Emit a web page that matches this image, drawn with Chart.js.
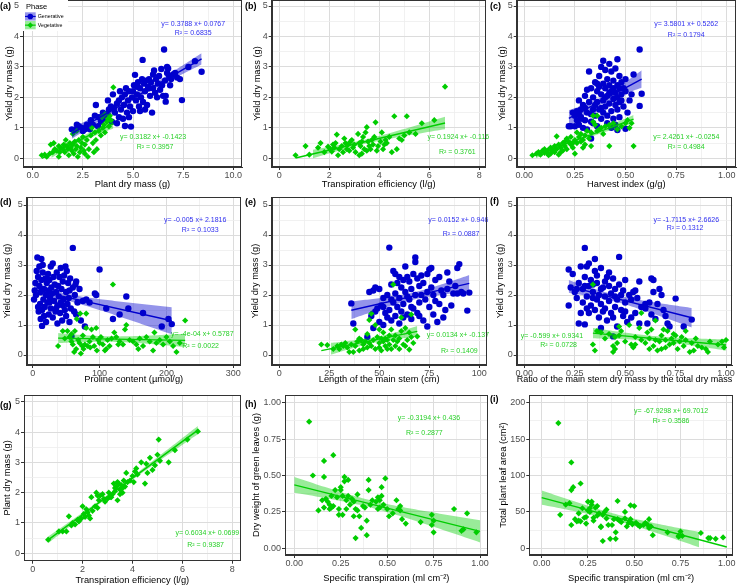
<!DOCTYPE html>
<html>
<head>
<meta charset="utf-8">
<title>Yield relationships by phase</title>
<script src="https://cdn.jsdelivr.net/npm/chart.js@4.4.1/dist/chart.umd.min.js"></script>
<style>
  html, body { margin: 0; padding: 0; background: #fff; }
  #fig { position: relative; width: 740px; height: 585px; overflow: hidden; }
  .panel { position: absolute; line-height: 0; }
  .panel canvas { display: block; }
</style>
</head>
<body>
<div id="fig"></div>
<script>
// ---- data ----
// pairs are flattened: x0, y0, x1, y1, ...

// (a) plant dry mass vs yield dry mass
const aGen = [1.95,0.95, 2.1,0.92, 2.2,1.1, 2.3,1.05, 2.45,1.0, 2.5,0.9, 2.6,0.95, 2.7,1.1, 2.85,0.95, 2.9,1.25, 3.0,1.1, 3.1,1.4, 3.15,1.75, 3.25,1.05, 3.3,1.35, 3.4,1.2, 3.5,1.5, 3.6,1.3, 3.7,1.45,
  3.75,1.9, 3.8,1.6, 3.9,1.7, 3.95,1.2, 4.0,2.1, 4.05,1.65, 4.1,1.5, 4.2,1.8, 4.2,1.15, 4.3,1.35, 4.3,1.9, 4.35,2.2, 4.4,1.6, 4.45,2.0, 4.5,1.3, 4.55,1.75, 4.6,1.06, 4.6,2.1, 4.65,2.3, 4.7,1.5, 4.75,1.9, 4.8,2.2, 4.8,1.35, 4.85,1.7, 4.9,1.04, 4.95,2.0, 5.0,1.55, 5.0,2.2, 5.05,2.4,
  5.1,2.74, 5.15,1.9, 5.2,2.1, 5.2,2.35, 5.25,2.5, 5.3,1.7, 5.35,2.3, 5.35,1.55, 5.4,2.0, 5.45,2.6, 5.48,3.23, 5.5,1.85, 5.55,2.45, 5.6,2.2, 5.6,1.6, 5.65,2.55, 5.7,1.75, 5.75,2.35, 5.8,2.6, 5.8,2.3, 5.85,2.05, 5.9,2.5, 5.95,1.5, 6.0,2.3, 6.0,2.75, 6.05,2.88, 6.1,2.15, 6.15,2.6, 6.2,2.0, 6.25,2.45, 6.3,2.7, 6.35,2.25, 6.41,2.93, 6.45,2.4, 6.5,2.05, 6.55,3.57, 6.6,2.55,
  6.63,2.05, 6.63,1.86, 6.7,2.8, 6.7,3.0, 6.75,2.95, 6.8,2.7, 6.85,2.4, 6.9,2.6, 7.0,2.75, 7.1,2.8, 7.2,2.65, 7.34,2.6, 7.44,1.91, 7.76,3.0, 8.09,3.19, 8.42,2.84];
const aVeg = [0.45,0.1, 0.6,0.12, 0.7,0.05, 0.85,0.15, 0.9,0.45, 1.0,0.2, 1.05,0.5, 1.1,0.3, 1.2,0.25, 1.3,0.4, 1.3,0.05, 1.35,0.2, 1.4,0.35, 1.5,0.3, 1.55,0.45, 1.6,0.2, 1.65,0.6, 1.7,0.4, 1.75,0.3, 1.8,0.1,
  1.85,0.5, 1.9,0.35, 1.95,0.25, 2.0,0.45, 2.0,0.8, 2.05,0.15, 2.1,0.55, 2.15,0.3, 2.2,0.4, 2.2,0.9, 2.25,0.05, 2.3,0.6, 2.35,0.2, 2.4,0.35, 2.45,0.5, 2.5,0.7, 2.55,0.25, 2.6,0.45, 2.6,0.15, 2.7,0.6,
  2.75,0.05, 2.8,0.3, 2.9,0.75, 2.95,1.0, 3.0,0.5, 3.05,0.2, 3.1,0.85, 3.15,0.6, 3.2,0.3, 3.3,0.9, 3.4,0.75, 3.45,1.35, 3.5,1.0, 3.55,1.1, 3.6,0.85, 3.6,1.45, 3.7,1.2, 3.75,1.3, 3.8,1.05, 3.85,1.4, 3.9,1.25, 4.02,2.33];

// (b) transpiration efficiency vs yield dry mass
const bVeg = [0.65,0.1, 1.05,0.4, 1.2,0.12, 1.55,0.35, 1.65,0.5, 1.8,0.2, 1.95,0.38, 2.05,0.3, 2.1,0.22, 2.15,0.45, 2.2,0.35, 2.25,0.5, 2.3,0.78, 2.35,0.1, 2.4,0.3, 2.5,0.4, 2.55,0.2, 2.6,0.65, 2.65,0.5, 2.7,0.3,
  2.75,0.45, 2.8,0.25, 2.85,0.55, 2.9,0.6, 2.95,0.35, 3.0,0.45, 3.05,0.2, 3.15,0.8, 3.2,0.1, 3.2,0.5, 3.25,0.4, 3.3,0.55, 3.3,0.15, 3.35,0.7, 3.4,0.3, 3.45,0.85, 3.5,1.02, 3.5,0.25, 3.55,0.55, 3.6,0.4,
  3.65,0.3, 3.7,0.6, 3.75,0.45, 3.8,0.7, 3.85,1.18, 3.9,0.25, 3.95,0.4, 4.05,0.55, 4.1,0.85, 4.15,0.3, 4.2,0.45, 4.25,0.6, 4.3,0.5, 4.4,0.7, 4.5,0.2, 4.6,1.38, 4.7,0.3, 4.8,0.65, 4.9,0.6, 5.0,0.75,
  5.1,1.38, 5.2,0.85, 5.45,0.8, 5.7,1.15, 6.2,1.25, 6.63,2.35];

// (c) harvest index vs yield dry mass
const cGen = [0.22,1.05, 0.23,1.05, 0.24,1.5, 0.25,1.05, 0.25,1.4, 0.26,1.25, 0.26,1.55, 0.27,1.9, 0.27,1.1, 0.27,1.45, 0.28,1.3, 0.28,1.6, 0.28,1.35, 0.29,1.0, 0.29,1.75, 0.3,1.25, 0.3,2.05, 0.3,1.65,
  0.31,1.5, 0.31,0.95, 0.31,2.25, 0.32,1.85, 0.32,2.85, 0.33,1.2, 0.33,0.65, 0.33,2.3, 0.33,1.45, 0.34,1.6, 0.34,2.0, 0.34,1.15, 0.35,1.4, 0.35,2.5, 0.35,1.75, 0.36,1.05, 0.36,1.85, 0.36,2.2, 0.36,2.45,
  0.37,1.6, 0.37,2.7, 0.37,2.35, 0.38,1.3, 0.38,2.1, 0.38,3.0, 0.38,1.65, 0.39,1.9, 0.39,2.45, 0.39,3.2, 0.39,1.5, 0.4,1.7, 0.4,2.3, 0.4,2.9, 0.4,2.0, 0.41,1.4, 0.41,2.05, 0.41,2.6, 0.41,1.15,
  0.42,1.8, 0.42,2.4, 0.42,3.1, 0.42,2.15, 0.43,1.55, 0.43,2.2, 0.43,2.85, 0.43,1.0, 0.44,1.3, 0.44,1.95, 0.44,2.55, 0.44,2.3, 0.45,1.1, 0.45,2.15, 0.45,2.95, 0.45,1.75, 0.46,1.6, 0.46,2.4, 0.46,3.25,
  0.46,2.0, 0.46,0.93, 0.47,1.85, 0.47,2.7, 0.47,1.35, 0.47,2.3, 0.48,2.1, 0.48,2.5, 0.48,1.9, 0.49,1.7, 0.49,2.3, 0.5,0.97, 0.5,2.2, 0.5,2.6, 0.51,1.5, 0.52,1.9, 0.53,2.1, 0.54,2.75, 0.57,3.57, 0.57,1.72, 0.58,2.12];
const cVeg = [0.04,0.1, 0.06,0.15, 0.07,0.2, 0.08,0.12, 0.09,0.25, 0.1,0.18, 0.1,0.3, 0.11,0.2, 0.12,0.28, 0.12,0.1, 0.13,0.15, 0.13,0.35, 0.14,0.25, 0.15,0.4, 0.15,0.2, 0.16,0.72, 0.16,0.3, 0.17,0.45,
  0.17,0.12, 0.18,0.35, 0.18,0.2, 0.19,0.5, 0.19,0.25, 0.2,0.4, 0.2,0.55, 0.21,0.65, 0.21,0.3, 0.22,0.55, 0.23,0.45, 0.23,0.7, 0.24,0.35, 0.24,0.5, 0.25,0.6, 0.25,0.15, 0.26,0.85, 0.26,0.5, 0.27,0.7,
  0.28,0.55, 0.28,0.8, 0.29,0.6, 0.29,0.35, 0.3,0.75, 0.3,0.45, 0.31,0.9, 0.32,0.65, 0.33,0.85, 0.33,0.4, 0.34,1.2, 0.34,1.4, 0.35,1.1, 0.36,0.9, 0.36,1.4, 0.37,0.95, 0.38,1.0, 0.39,0.8, 0.4,1.05,
  0.42,0.4, 0.42,1.1, 0.44,1.15, 0.46,0.95, 0.48,1.05, 0.5,1.15, 0.51,1.25, 0.52,1.0, 0.53,1.15, 0.54,0.4];

// (d) proline content vs yield dry mass
const dGen = [2,1.85, 3,2.15, 4,2.4, 5,2.0, 6,2.8, 7,3.25, 8,1.6, 8,2.6, 9,1.45, 10,2.3, 10,2.95, 11,1.7, 12,1.2, 12,2.1, 13,3.2, 13,2.5, 14,0.97, 14,1.5, 15,3.0, 15,2.75, 15,2.2, 16,1.85, 17,1.3, 17,2.2,
  18,1.6, 19,2.55, 20,1.1, 20,2.0, 21,2.4, 22,1.75, 23,2.7, 24,1.35, 24,2.15, 25,2.5, 25,1.75, 26,1.9, 27,2.95, 27,1.55, 28,2.25, 29,2.05, 30,1.25, 30,3.05, 31,2.6, 32,1.8, 33,2.35, 34,1.45, 35,2.1,
  35,1.55, 36,2.75, 37,1.05, 37,1.65, 38,2.3, 39,1.95, 40,2.6, 41,1.4, 42,2.9, 42,1.75, 43,2.2, 44,1.15, 45,2.45, 45,1.65, 46,1.85, 47,2.65, 48,1.5, 49,2.95, 50,2.1, 50,1.3, 51,2.8, 52,1.7, 53,2.4,
  54,1.9, 55,1.1, 55,2.15, 56,2.55, 57,1.55, 58,0.62, 60,3.57, 60,2.25, 62,1.45, 63,2.0, 64,2.35, 65,1.35, 65,2.45, 67,1.75, 70,2.2, 72,1.15, 75,1.8, 78,0.95, 80,1.85, 85,1.75, 93,2.05, 95,2.0,
  100,2.85, 110,1.55, 120,1.2, 130,1.35, 140,1.95, 143,1.55, 165,1.4, 193,0.95, 203,1.2, 208,1.03];
const dVeg = [38,0.3, 45,0.8, 48,0.55, 52,0.8, 55,0.6, 58,0.45, 58,0.7, 60,0.35, 62,0.1, 63,0.8, 65,0.2, 66,1.2, 68,0.5, 70,0.4, 71,1.38, 72,0.05, 74,0.3, 75,0.65, 76,0.2, 78,0.35, 80,1.38, 80,0.9,
  82,0.3, 85,0.45, 86,0.25, 88,0.85, 90,0.6, 92,0.3, 95,0.9, 96,0.15, 98,0.5, 100,0.4, 102,0.6, 105,0.35, 108,0.15, 110,0.2, 112,0.5, 115,0.3, 118,0.55, 120,2.35, 122,0.75, 125,0.6, 128,0.35,
  130,0.45, 135,0.35, 138,0.85, 140,1.0, 145,0.5, 150,0.45, 155,0.35, 158,0.2, 160,0.55, 165,0.3, 170,0.6, 175,0.45, 180,0.15, 182,0.75, 185,0.4, 190,0.5, 195,0.35, 200,0.6, 205,0.45, 210,0.3,
  215,0.1, 220,0.4, 228,1.15];

// (e) length of the main stem vs yield dry mass
const eGen = [36,1.72, 37,1.05, 44,0.6, 45,2.1, 46,1.3, 47,2.15, 47,0.9, 48,1.45, 48,2.25, 49,1.55, 50,2.2, 50,1.1, 51,1.65, 52,1.0, 52,1.9, 52,1.6, 53,1.4, 54,2.0, 54,1.25, 55,1.5, 55,3.58,
  56,2.35, 56,1.15, 56,1.85, 57,2.8, 57,1.75, 58,2.05, 58,1.3, 58,2.7, 59,1.6, 59,2.4, 60,1.9, 60,1.05, 60,2.6, 61,2.25, 61,1.45, 62,2.5, 62,1.7, 62,1.25, 63,2.95, 63,2.1, 64,1.35, 64,2.6, 64,1.95,
  65,1.85, 65,2.45, 66,1.2, 66,2.2, 66,1.6, 67,2.7, 67,1.55, 68,3.25, 68,3.1, 68,2.0, 69,2.55, 69,1.4, 70,2.3, 70,1.75, 70,1.3, 71,2.65, 71,2.0, 72,1.15, 72,2.4, 73,1.85, 74,2.7, 74,0.95, 74,2.1,
  75,2.85, 75,1.6, 76,2.9, 76,2.25, 77,2.0, 77,1.35, 78,1.8, 78,2.5, 79,1.1, 80,2.6, 80,1.7, 81,2.15, 82,2.0, 82,1.25, 83,1.5, 84,2.75, 84,2.2, 85,2.45, 86,1.65, 87,2.05, 88,2.3, 89,2.9, 89,2.05,
  90,3.03, 91,2.1, 92,2.05, 94,1.48, 95,2.08];
const eVeg = [21,0.35, 24,0.33, 27,0.2, 29,0.3, 30,0.2, 31,0.35, 32,0.3, 33,0.4, 34,0.25, 35,0.1, 36,0.35, 37,0.1, 38,0.85, 38,0.3, 39,0.45, 40,0.55, 40,0.15, 41,0.5, 42,0.2, 42,0.35, 43,0.45,
  44,0.25, 44,0.7, 45,1.17, 45,0.4, 46,1.38, 46,0.3, 47,0.5, 48,0.2, 48,1.0, 49,0.6, 50,0.4, 50,0.25, 50,0.85, 51,0.55, 51,0.15, 52,0.45, 52,0.75, 53,0.3, 53,0.55, 54,0.5, 54,0.2, 55,0.65, 55,0.35,
  56,0.85, 56,0.2, 57,2.35, 57,0.5, 58,0.3, 58,0.65, 59,0.45, 60,0.55, 60,0.2, 61,0.8, 61,1.25, 62,0.35, 63,0.9, 63,0.3, 64,0.5, 65,0.75, 65,0.18, 66,0.6, 66,1.35, 67,0.4, 69,0.62];

// (f) ratio of main stem dry mass to total dry mass vs yield dry mass
const fGen = [0.22,2.85, 0.22,1.65, 0.23,2.25, 0.24,2.7, 0.25,2.1, 0.26,1.9, 0.26,2.2, 0.27,1.05, 0.27,2.4, 0.28,2.95, 0.28,1.4, 0.29,2.2, 0.29,1.75, 0.3,3.57, 0.3,1.02, 0.3,2.6, 0.3,2.3,
  0.31,1.95, 0.31,2.95, 0.31,1.55, 0.32,1.4, 0.32,2.3, 0.32,3.05, 0.33,1.65, 0.33,2.5, 0.34,1.9, 0.34,2.1, 0.34,2.35, 0.35,3.2, 0.35,2.8, 0.35,1.5, 0.36,2.4, 0.36,2.65, 0.36,1.85, 0.37,1.25, 0.37,2.0,
  0.38,0.9, 0.38,2.9, 0.38,1.7, 0.38,2.2, 0.39,2.25, 0.39,1.45, 0.4,2.45, 0.4,1.95, 0.4,1.55, 0.41,1.15, 0.41,2.6, 0.42,1.8, 0.42,2.3, 0.42,2.75, 0.43,1.4, 0.43,2.05, 0.44,2.55, 0.44,1.25, 0.44,0.62,
  0.45,1.6, 0.45,2.2, 0.45,1.95, 0.46,1.85, 0.46,0.95, 0.47,2.35, 0.47,3.27, 0.48,1.5, 0.48,2.0, 0.49,2.15, 0.49,1.3, 0.5,1.75, 0.5,2.5, 0.5,1.45, 0.51,1.1, 0.52,2.0, 0.53,1.85, 0.53,1.25, 0.54,2.1,
  0.55,2.15, 0.55,1.4, 0.56,1.9, 0.57,2.45, 0.57,1.05, 0.58,1.6, 0.6,1.55, 0.6,1.7, 0.61,1.05, 0.62,1.75, 0.63,2.55, 0.63,1.35, 0.64,2.5, 0.64,2.1, 0.65,1.2, 0.66,1.7, 0.67,2.2, 0.68,2.0, 0.69,1.5,
  0.7,1.3, 0.71,1.05, 0.72,0.95, 0.75,1.88, 0.79,0.95, 0.83,1.18];
const fVeg = [0.34,2.35, 0.34,0.35, 0.35,0.15, 0.36,0.8, 0.38,0.75, 0.4,0.55, 0.42,0.7, 0.44,0.1, 0.44,0.3, 0.45,0.6, 0.45,0.2, 0.46,0.4, 0.47,0.65, 0.47,0.95, 0.48,0.8, 0.5,0.45, 0.52,1.0, 0.53,0.35,
  0.54,0.25, 0.55,0.6, 0.55,0.35, 0.57,0.9, 0.58,1.4, 0.58,0.5, 0.6,0.4, 0.61,0.75, 0.62,0.2, 0.62,0.55, 0.63,0.85, 0.64,0.3, 0.65,1.15, 0.65,0.5, 0.66,0.15, 0.67,0.45, 0.68,0.65, 0.68,0.2, 0.69,0.85,
  0.7,0.25, 0.7,0.5, 0.71,0.8, 0.72,0.35, 0.73,0.55, 0.74,0.4, 0.74,0.7, 0.75,0.65, 0.76,0.2, 0.77,0.45, 0.78,0.6, 0.79,0.3, 0.8,0.8, 0.8,0.5, 0.82,0.1, 0.83,0.4, 0.84,0.15, 0.85,0.55, 0.86,0.3,
  0.88,0.25, 0.9,0.2, 0.91,0.1, 0.92,0.45, 0.96,0.35, 0.98,0.45, 0.99,0.25, 1.0,0.5];

// (g) transpiration efficiency vs plant dry mass
const gVeg = [0.62,0.45, 1.05,0.72, 1.2,0.72, 1.35,0.72, 1.45,1.22, 1.55,0.92, 1.6,1.0, 1.7,0.95, 1.8,1.1, 1.85,1.05, 1.95,1.15, 2.0,1.55, 2.05,1.3, 2.1,1.2, 2.15,1.45, 2.2,1.35, 2.25,1.25, 2.3,1.15,
  2.35,1.85, 2.4,1.4, 2.5,1.55, 2.55,2.0, 2.6,1.5, 2.6,1.9, 2.65,1.75, 2.7,1.9, 2.8,1.95, 2.85,1.8, 2.9,1.7, 3.0,1.8, 3.05,2.0, 3.1,1.85, 3.15,1.85, 3.2,1.95, 3.25,2.3, 3.3,2.05, 3.3,2.15, 3.35,2.2,
  3.4,1.75, 3.4,2.35, 3.45,2.3, 3.5,2.1, 3.5,1.95, 3.55,2.25, 3.6,2.0, 3.6,2.15, 3.65,2.4, 3.7,2.2, 3.75,2.65, 3.8,2.35, 3.9,2.4, 4.0,2.55, 4.05,2.35, 4.1,2.7, 4.15,2.8, 4.2,2.6, 4.35,3.0, 4.5,2.3,
  4.55,2.95, 4.6,2.65, 4.7,3.15, 4.8,2.75, 4.9,2.9, 5.0,3.25, 5.05,3.75, 5.1,3.05, 5.45,3.0, 5.7,3.4, 6.2,3.75, 6.62,4.02];

// (h) specific transpiration vs dry weight of green leaves
const hVeg = [0.08,0.87, 0.1,0.5, 0.13,0.26, 0.15,0.33, 0.16,0.6, 0.16,0.49, 0.16,0.28, 0.17,0.34, 0.18,0.32, 0.19,0.3, 0.19,0.27, 0.2,0.36, 0.2,0.28, 0.21,0.64, 0.21,0.29, 0.22,0.4, 0.23,0.35,
  0.24,0.23, 0.24,0.27, 0.25,0.42, 0.25,0.4, 0.26,0.23, 0.26,0.36, 0.27,0.49, 0.27,0.46, 0.28,0.27, 0.28,0.33, 0.29,0.36, 0.29,0.47, 0.3,0.3, 0.31,0.34, 0.32,0.32, 0.32,0.22, 0.33,0.27, 0.33,0.07,
  0.34,0.26, 0.34,0.37, 0.35,0.22, 0.36,0.14, 0.37,0.29, 0.38,0.28, 0.39,0.19, 0.39,0.09, 0.4,0.47, 0.4,0.4, 0.41,0.3, 0.42,0.33, 0.44,0.32, 0.45,0.35, 0.45,0.27, 0.46,0.28, 0.46,0.33, 0.47,0.42,
  0.47,0.36, 0.48,0.3, 0.49,0.48, 0.5,0.27, 0.51,0.22, 0.53,0.24, 0.55,0.33, 0.56,0.27, 0.57,0.29, 0.57,0.26, 0.58,0.2, 0.6,0.17, 0.68,0.18, 0.74,0.23, 0.74,0.16, 0.75,0.19, 0.75,0.11, 0.86,0.27,
  0.9,0.12, 0.91,0.13, 0.93,0.24, 0.98,0.11];

// (i) specific transpiration vs total plant leaf area
const iVeg = [0.09,172, 0.1,46, 0.13,60, 0.15,62, 0.16,118, 0.16,32, 0.16,80, 0.17,84, 0.18,40, 0.19,37, 0.2,48, 0.2,38, 0.21,89, 0.21,37, 0.22,55, 0.23,42, 0.24,34, 0.24,43, 0.25,64, 0.25,52,
  0.26,50, 0.26,55, 0.27,64, 0.27,60, 0.28,38, 0.28,42, 0.29,56, 0.3,58, 0.3,45, 0.31,48, 0.32,30, 0.32,29, 0.33,10, 0.33,46, 0.34,50, 0.35,53, 0.35,41, 0.36,32, 0.37,13, 0.38,32, 0.39,40, 0.4,13,
  0.4,22, 0.41,65, 0.41,40, 0.42,38, 0.43,36, 0.45,41, 0.45,50, 0.46,30, 0.47,35, 0.48,59, 0.48,40, 0.49,33, 0.5,58, 0.51,35, 0.52,32, 0.53,30, 0.55,32, 0.56,35, 0.57,33, 0.58,40, 0.58,28, 0.59,30,
  0.6,18, 0.68,22, 0.74,17, 0.74,16, 0.75,23, 0.76,17, 0.86,21, 0.9,14, 0.91,14, 0.94,13, 0.98,15];

// fitted equations [slope, intercept], as printed on the figure
const coefA = [[0.3788, 0.0767], [0.3182, -0.1423]];
const coefB = [[0.1924, -0.116]];
const coefC = [[3.5801, 0.5262], [2.4261, -0.0254]];
const coefD = [[-0.005, 2.1816], [-0.0004, 0.5787]];
const coefE = [[0.0152, 0.946], [0.0134, -0.137]];
const coefF = [[-1.7115, 2.6626], [-0.599, 0.9341]];
const coefG = [[0.6034, 0.0699]];
const coefH = [[-0.3194, 0.436]];
const coefI = [[-67.9298, 69.7012]];

const eqA = ['y= 0.3788 x+ 0.0767', 'R\u00b2 = 0.6835', 'y= 0.3182 x+ -0.1423', 'R\u00b2 = 0.3957'];
const eqB = ['y= 0.1924 x+ -0.116', 'R\u00b2 = 0.3761'];
const eqC = ['y= 3.5801 x+ 0.5262', 'R\u00b2 = 0.1794', 'y= 2.4261 x+ -0.0254', 'R\u00b2 = 0.4984'];
const eqD = ['y= -0.005 x+ 2.1816', 'R\u00b2 = 0.1033', 'y= -4e-04 x+ 0.5787', 'R\u00b2 = 0.0022'];
const eqE = ['y= 0.0152 x+ 0.946', 'R\u00b2 = 0.0887', 'y= 0.0134 x+ -0.137', 'R\u00b2 = 0.1409'];
const eqF = ['y= -1.7115 x+ 2.6626', 'R\u00b2 = 0.1312', 'y= -0.599 x+ 0.9341', 'R\u00b2 = 0.0728'];
const eqG = ['y= 0.6034 x+ 0.0699', 'R\u00b2 = 0.9387'];
const eqH = ['y= -0.3194 x+ 0.436', 'R\u00b2 = 0.2877'];
const eqI = ['y= -67.9298 x+ 69.7012', 'R\u00b2 = 0.3586'];

// tick labels
const ticksYield = ['0', '1', '2', '3', '4', '5'];
const ticksMass = ['0.0', '2.5', '5.0', '7.5', '10.0'];
const ticksTE = ['0', '2', '4', '6', '8'];
const ticksFrac = ['0.00', '0.25', '0.50', '0.75', '1.00'];
const ticksProline = ['0', '100', '200', '300'];
const ticksStem = ['0', '25', '50', '75', '100'];
const ticksArea = ['0', '50', '100', '150', '200'];

const phaseNames = ['Generative', 'Vegetative'];
const legendTitle = 'Phase';

// ---- styling / layout ----
const FONT = 'Arial, "Liberation Sans", Helvetica, sans-serif';
const GEN = '#0000CD', VEG = '#00CD00';
const GEN_BAND = 'rgba(0,0,205,0.42)', VEG_BAND = 'rgba(0,205,0,0.40)';
const GEN_TEXT = '#3030F0', VEG_TEXT = '#28D028';
const M = 10;           // spare margin around every canvas
const PANEL_H = 195;
const colX = [0, 245, 490], colW = [245, 245, 250], rowY = [0, 195, 390];

Chart.defaults.font.family = FONT;

function pairs(arr) {
  const out = [];
  for (let i = 0; i < arr.length; i += 2) out.push({x: arr[i], y: arr[i + 1]});
  return out;
}

// fitted line plus 95% confidence band around it, band dropped where it falls below 0
function regression(pts, coef, range) {
  const n = pts.length;
  const xbar = pts.reduce((s, p) => s + p.x, 0) / n;
  let sxx = 0, rss = 0;
  pts.forEach(p => {
    sxx += (p.x - xbar) ** 2;
    const r = p.y - (coef[0] * p.x + coef[1]);
    rss += r * r;
  });
  const s = Math.sqrt(rss / (n - 2));
  const t = 1.98;
  const [x0, x1] = range;
  const mid = [{x: x0, y: coef[0] * x0 + coef[1]}, {x: x1, y: coef[0] * x1 + coef[1]}];
  const upper = [], lower = [];
  for (let i = 0; i <= 60; i++) {
    const xv = x0 + (x1 - x0) * i / 60;
    const fit = coef[0] * xv + coef[1];
    const half = t * s * Math.sqrt(1 / n + (xv - xbar) ** 2 / sxx);
    if (fit - half < 0) continue;
    upper.push({x: xv, y: fit + half});
    lower.push({x: xv, y: fit - half});
  }
  return {mid, upper, lower};
}

function tickObjects(labels, range) {
  const vals = labels.map(Number);
  const step = vals[1] - vals[0];
  const ticks = [];
  if (vals[0] - step / 2 >= range[0]) ticks.push({value: vals[0] - step / 2, minor: true});
  vals.forEach((v, i) => {
    ticks.push({value: v, text: labels[i]});
    if (i < vals.length - 1) ticks.push({value: (v + vals[i + 1]) / 2, minor: true});
  });
  const last = vals[vals.length - 1];
  if (last + step / 2 <= range[1]) ticks.push({value: last + step / 2, minor: true});
  return ticks;
}

const isMinor = c => !!(c.tick && c.tick.minor);

function makeAxis(p, isX) {
  const labels = isX ? p.xTicks : p.yTicks;
  const range = isX ? p.xRange : p.yRange;
  return {
    type: 'linear',
    min: range[0],
    max: range[1],
    afterBuildTicks: s => { s.ticks = tickObjects(labels, range); },
    afterFit: s => {
      if (isX) s.height = PANEL_H - p.area[3];
      else s.width = p.area[0];
    },
    grid: {
      color: c => isMinor(c) ? '#EDEDED' : '#DCDCDC',
      lineWidth: c => isMinor(c) ? 0.8 : 1,
      tickColor: c => isMinor(c) ? 'rgba(0,0,0,0)' : '#333333',
      tickWidth: 1,
      tickLength: 3,
      drawTicks: true
    },
    border: {display: true, color: '#333333', width: 1},
    ticks: {
      autoSkip: false, maxRotation: 0, includeBounds: false,
      padding: isX ? 0 : 1,
      color: '#4D4D4D',
      font: {size: 9, family: FONT},
      callback: (v, i, t) => t[i].text || ''
    },
    title: {
      display: true,
      text: isX ? p.xTitle : p.yTitle,
      color: '#000',
      font: {size: 9.3, family: FONT, lineHeight: 1},
      padding: isX ? {top: 0, bottom: Math.max(0, PANEL_H - p.xTitleY - 4.65)}
                   : {top: p.yTitleX - 4.65, bottom: 0}
    }
  };
}

function drawPhaseLegend(ctx) {
  const ox = M, oy = M;
  ctx.fillStyle = '#FFFFFF';
  ctx.fillRect(ox + 20, oy - 2, 48, 33);
  ctx.fillStyle = '#000';
  ctx.font = '7.5px ' + FONT;
  ctx.textAlign = 'left';
  ctx.textBaseline = 'middle';
  ctx.fillText(legendTitle, ox + 26, oy + 6.5);
  const cols = [GEN, VEG], bands = [GEN_BAND, VEG_BAND];
  phaseNames.forEach((name, k) => {
    const ky = oy + 12.3 + k * 8.7;
    const cy = ky + 4.15, cx = ox + 30.3;
    ctx.fillStyle = bands[k];
    ctx.fillRect(ox + 25, ky, 10.7, 8.3);
    ctx.fillStyle = cols[k];
    ctx.fillRect(ox + 25, cy - 0.6, 10.7, 1.2);
    ctx.beginPath();
    if (k === 0) {
      ctx.arc(cx, cy, 2.8, 0, Math.PI * 2);
    } else {
      ctx.moveTo(cx - 2.9, cy); ctx.lineTo(cx, cy - 2.9);
      ctx.lineTo(cx + 2.9, cy); ctx.lineTo(cx, cy + 2.9);
      ctx.closePath();
    }
    ctx.fill();
    ctx.fillStyle = '#000';
    ctx.font = '5.3px ' + FONT;
    ctx.fillText(name, ox + 37.7, cy);
  });
}

const decoPlugin = {
  id: 'deco',
  beforeDatasetsDraw(chart, args, opts) {
    const {ctx, scales: {x, y}} = chart;
    ctx.save();
    ctx.font = '7px ' + FONT;
    ctx.textAlign = 'center';
    ctx.textBaseline = 'middle';
    opts.notes.forEach(n => {
      ctx.fillStyle = n.color;
      ctx.fillText(n.text, x.getPixelForValue(n.x), y.getPixelForValue(n.y));
    });
    ctx.restore();
  },
  afterDraw(chart, args, opts) {
    const {ctx, chartArea: a} = chart;
    ctx.save();
    // panel frame, drawn as thin filled strips
    const l = Math.round(a.left), t = Math.round(a.top), r = Math.round(a.right), b = Math.round(a.bottom);
    ctx.fillStyle = '#333333';
    ctx.fillRect(l, t, r - l, 1);
    ctx.fillRect(l, b - 1, r - l, 1);
    ctx.fillRect(l, t, 1, b - t);
    ctx.fillRect(r - 1, t, 1, b - t);
    if (opts.legend) drawPhaseLegend(ctx);
    ctx.fillStyle = '#000';
    ctx.font = 'bold 9px ' + FONT;
    ctx.textAlign = 'left';
    ctx.textBaseline = 'middle';
    ctx.fillText(opts.tag, M, M + opts.tagY);
    ctx.restore();
  }
};

function buildDatasets(p) {
  const datasets = [];
  p.series.forEach(s => {
    const gen = s.phase === 'gen';
    const pts = pairs(s.data);
    const xs = pts.map(q => q.x);
    const range = p.lineRange || [Math.min(...xs), Math.max(...xs)];
    const fit = regression(pts, s.coef, range);
    datasets.push({
      type: 'scatter', data: pts,
      pointStyle: gen ? 'circle' : 'rectRot',
      pointRadius: gen ? 3.2 : 3.1,
      backgroundColor: gen ? GEN : VEG,
      borderWidth: 0,
      order: gen ? 20 : 19
    });
    datasets.push({
      type: 'line', data: fit.upper, fill: '+1',
      backgroundColor: gen ? GEN_BAND : VEG_BAND,
      borderColor: 'rgba(0,0,0,0)', borderWidth: 0, pointRadius: 0, tension: 0,
      order: gen ? 11 : 10
    });
    datasets.push({
      type: 'line', data: fit.lower, fill: false,
      borderColor: 'rgba(0,0,0,0)', borderWidth: 0, pointRadius: 0, tension: 0,
      order: gen ? 11 : 10
    });
    datasets.push({
      type: 'line', data: fit.mid, fill: false,
      borderColor: gen ? GEN : VEG, borderWidth: 1.4, pointRadius: 0, tension: 0,
      order: gen ? 5 : 4
    });
  });
  return datasets;
}

function notesFor(eq, spots, colours) {
  return eq.map((text, i) => ({text, x: spots[i][0], y: spots[i][1], color: colours[i]}));
}
const twoPhase = [GEN_TEXT, GEN_TEXT, VEG_TEXT, VEG_TEXT];
const vegOnly = [VEG_TEXT, VEG_TEXT];

const panels = [
  {tag: '(a)', col: 0, row: 0, area: [23, 0, 242, 167], xRange: [-0.484, 10.434], yRange: [-0.286, 5.197],
   xTicks: ticksMass, yTicks: ticksYield, xTitle: 'Plant dry mass (g)', yTitle: 'Yield dry mass (g)',
   yTitleX: 9.3, xTitleY: 184.5, tagY: 6.5, legend: true,
   series: [{phase: 'gen', data: aGen, coef: coefA[0]}, {phase: 'veg', data: aVeg, coef: coefA[1]}],
   notes: notesFor(eqA, [[8.0, 4.41], [8.0, 4.10], [6.0, 0.69], [6.1, 0.36]], twoPhase)},
  {tag: '(b)', col: 1, row: 0, area: [26.7, 0, 240.7, 167], xRange: [-0.304, 8.256], yRange: [-0.286, 5.197],
   xTicks: ticksTE, yTicks: ticksYield, xTitle: 'Transpiration efficiency (l/g)', yTitle: 'Yield dry mass (g)',
   yTitleX: 12.7, xTitleY: 184.5, tagY: 6.5,
   series: [{phase: 'veg', data: bVeg, coef: coefB[0]}],
   notes: notesFor(eqB, [[7.16, 0.69], [7.12, 0.22]], vegOnly)},
  {tag: '(c)', col: 2, row: 0, area: [26.7, 0, 246, 167], xRange: [-0.0375, 1.046], yRange: [-0.286, 5.197],
   xTicks: ticksFrac, yTicks: ticksYield, xTitle: 'Harvest index (g/g)', yTitle: 'Yield dry mass (g)',
   yTitleX: 12.7, xTitleY: 184.5, tagY: 6.5,
   series: [{phase: 'gen', data: cGen, coef: coefC[0]}, {phase: 'veg', data: cVeg, coef: coefC[1]}],
   notes: notesFor(eqC, [[0.80, 4.41], [0.80, 4.05], [0.80, 0.69], [0.80, 0.36]], twoPhase)},
  {tag: '(d)', col: 0, row: 1, area: [26.7, 2, 240.7, 170], xRange: [-8.97, 311.05], yRange: [-0.333, 5.267],
   xTicks: ticksProline, yTicks: ticksYield, xTitle: 'Proline content (\u00b5mol/g)', yTitle: 'Yield dry mass (g)',
   yTitleX: 7.3, xTitleY: 184.5, tagY: 7.7,
   series: [{phase: 'gen', data: dGen, coef: coefD[0]}, {phase: 'veg', data: dVeg, coef: coefD[1]}],
   notes: notesFor(eqD, [[243, 4.5], [250.5, 4.17], [253.6, 0.69], [251, 0.31]], twoPhase)},
  {tag: '(e)', col: 1, row: 1, area: [26.7, 2, 241.7, 170], xRange: [-3.8, 103.7], yRange: [-0.333, 5.267],
   xTicks: ticksStem, yTicks: ticksYield, xTitle: 'Length of the main stem (cm)', yTitle: 'Yield dry mass (g)',
   yTitleX: 10, xTitleY: 184.5, tagY: 7.7,
   series: [{phase: 'gen', data: eGen, coef: coefE[0]}, {phase: 'veg', data: eVeg, coef: coefE[1]}],
   notes: notesFor(eqE, [[89.5, 4.5], [90.9, 4.03], [89.3, 0.67], [90, 0.13]], twoPhase)},
  {tag: '(f)', col: 2, row: 1, area: [26.7, 2, 242.3, 170], xRange: [-0.0377, 1.031], yRange: [-0.333, 5.267],
   xTicks: ticksFrac, yTicks: ticksYield, xTitle: 'Ratio of the main stem dry mass by the total dry mass', yTitle: 'Yield dry mass (g)',
   yTitleX: 10, xTitleY: 184.5, tagY: 7,
   series: [{phase: 'gen', data: fGen, coef: coefF[0]}, {phase: 'veg', data: fVeg, coef: coefF[1]}],
   notes: notesFor(eqF, [[0.803, 4.5], [0.797, 4.22], [0.137, 0.64], [0.17, 0.33]], twoPhase)},
  {tag: '(g)', col: 0, row: 2, area: [24, 5, 240.7, 170.7], xRange: [-0.349, 8.337], yRange: [-0.244, 5.221],
   xTicks: ticksTE, yTicks: ticksYield, xTitle: 'Transpiration efficiency (l/g)', yTitle: 'Plant dry mass (g)',
   yTitleX: 7.3, xTitleY: 190.5, tagY: 15.8,
   series: [{phase: 'veg', data: gVeg, coef: coefG[0]}],
   notes: notesFor(eqG, [[7.0, 0.66], [6.93, 0.27]], vegOnly)},
  {tag: '(h)', col: 1, row: 2, area: [40, 5, 242.7, 165], xRange: [-0.05, 1.041], yRange: [-0.046, 1.053],
   xTicks: ticksFrac, yTicks: ticksFrac, xTitle: 'Specific transpiration (ml cm\u207b\u00b2)', yTitle: 'Dry weight of green leaves (g)',
   yTitleX: 11, xTitleY: 188, tagY: 15, lineRange: [0, 1],
   series: [{phase: 'veg', data: hVeg, coef: coefH[0]}],
   notes: notesFor(eqH, [[0.725, 0.897], [0.70, 0.794]], vegOnly)},
  {tag: '(i)', col: 2, row: 2, area: [39.3, 5, 242.7, 165], xRange: [-0.067, 1.032], yRange: [-9.2, 210.6],
   xTicks: ticksFrac, yTicks: ticksArea, xTitle: 'Specific transpiration (ml cm\u207b\u00b2)', yTitle: 'Total plant leaf area (cm\u00b2)',
   yTitleX: 13.3, xTitleY: 188, tagY: 9.7, lineRange: [0, 1],
   series: [{phase: 'veg', data: iVeg, coef: coefI[0]}],
   notes: notesFor(eqI, [[0.699, 189], [0.699, 175.3]], vegOnly)}
];

const fig = document.getElementById('fig');
panels.forEach(p => {
  const w = colW[p.col];
  const holder = document.createElement('div');
  holder.className = 'panel';
  holder.style.left = (colX[p.col] - M) + 'px';
  holder.style.top = (rowY[p.row] - M) + 'px';
  const canvas = document.createElement('canvas');
  canvas.width = w + 2 * M;
  canvas.height = PANEL_H + 2 * M;
  holder.appendChild(canvas);
  fig.appendChild(holder);

  new Chart(canvas, {
    type: 'scatter',
    data: {datasets: buildDatasets(p)},
    options: {
      responsive: false,
      devicePixelRatio: 1,
      animation: false,
      events: [],
      layout: {padding: {left: M, top: M + p.area[1], right: M + (w - p.area[2]), bottom: M}},
      scales: {x: makeAxis(p, true), y: makeAxis(p, false)},
      plugins: {
        legend: {display: false},
        tooltip: {enabled: false},
        deco: {tag: p.tag, tagY: p.tagY, notes: p.notes, legend: !!p.legend}
      }
    },
    plugins: [decoPlugin]
  });
});
</script>
</body>
</html>
